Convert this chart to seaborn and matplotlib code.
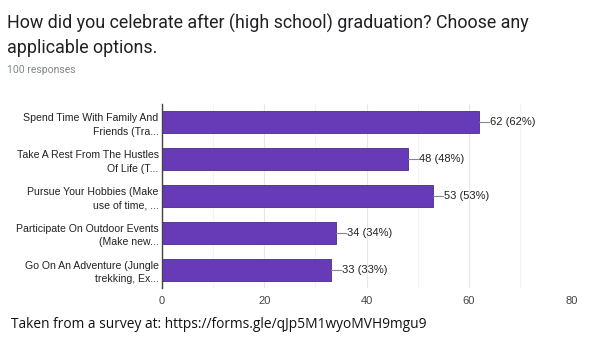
import matplotlib
matplotlib.use("Agg")
import matplotlib.pyplot as plt
import seaborn as sns
import pandas as pd
from matplotlib.ticker import MultipleLocator

categories = [
    "Spend Time With Family And\nFriends (Tra...",
    "Take A Rest From The Hustles\nOf Life (T...",
    "Pursue Your Hobbies (Make\nuse of time, ...",
    "Participate On Outdoor Events\n(Make new...",
    "Go On An Adventure (Jungle\ntrekking, Ex...",
]
counts = [62, 48, 53, 34, 33]
total = 100
xticks = [0, 20, 40, 60, 80]

df = pd.DataFrame({"option": categories, "count": counts})

sns.set_theme(style="white")
plt.rcParams["font.family"] = ["Liberation Sans", "DejaVu Sans"]

fig = plt.figure(figsize=(6, 3.4), dpi=100)
ax = fig.add_axes([0.27, 0.153, 0.682, 0.541])

sns.barplot(data=df, x="count", y="option", orient="h", color="#673ab7",
            saturation=1, width=0.6, edgecolor="#4a2a8a", linewidth=0.6, ax=ax)

ax.set_xlim(0, 80)
ax.set_ylim(4.5, -0.5)
ax.set_xticks(xticks)
ax.xaxis.set_minor_locator(MultipleLocator(10))
ax.grid(axis="x", which="major", color="#e6e6e6", linewidth=0.8)
ax.grid(axis="x", which="minor", color="#f3f3f3", linewidth=0.8)
ax.set_axisbelow(True)
for s in ["top", "right", "bottom"]:
    ax.spines[s].set_visible(False)
ax.spines["left"].set_color("#444444")
ax.spines["left"].set_linewidth(1.0)
ax.tick_params(axis="x", length=0, labelsize=8, colors="#444444", pad=6)
ax.tick_params(axis="y", length=0, labelsize=7.6, colors="#222222", pad=2.5)
for lab in ax.get_yticklabels():
    lab.set_horizontalalignment("right")
    lab.set_multialignment("right")
    lab.set_linespacing(1.45)
ax.set_xlabel("")
ax.set_ylabel("")

for i, v in enumerate(counts):
    ax.plot([v, v + 2.0], [i, i], color="#888888", linewidth=0.8)
    ax.text(v + 2.2, i, f"{v} ({round(v * 100 / total)}%)", va="center", ha="left",
            fontsize=8, color="#222222")

fig.text(0.012, 0.958, "How did you celebrate after (high school) graduation? Choose any\napplicable options.",
         fontsize=12.9, color="#202124", family=["Roboto", "DejaVu Sans"], va="top",
         linespacing=1.42)
fig.text(0.012, 0.795, "100 responses", fontsize=7.5, color="#80868b",
         family=["Roboto", "DejaVu Sans"], va="center")
fig.text(0.018, 0.047, "Taken from a survey at: https://forms.gle/qJp5M1wyoMVH9mgu9",
         fontsize=9.9, color="#111111", family=["Open Sans", "DejaVu Sans"], va="center")

fig.savefig("out.png", dpi=100, facecolor="white")
